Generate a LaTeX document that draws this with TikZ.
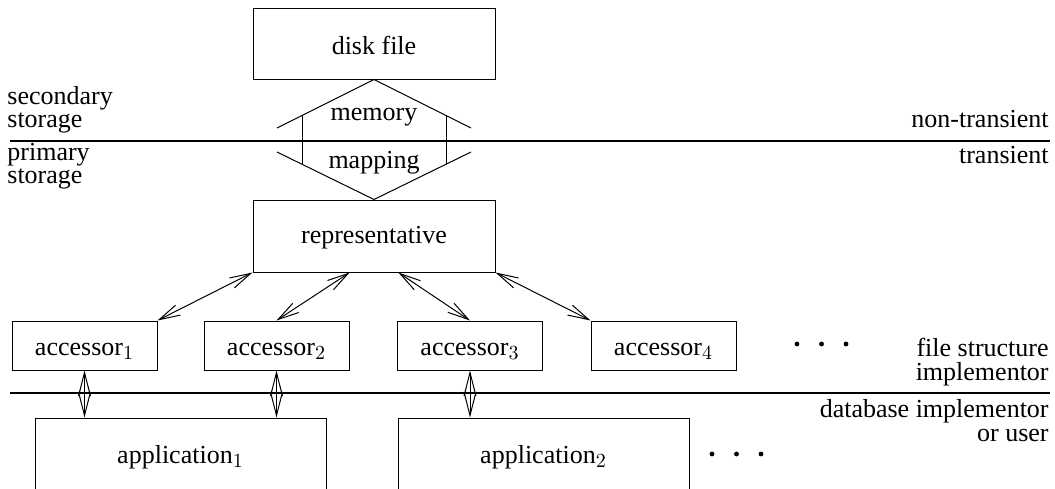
\documentclass[tikz,border=0pt]{standalone}
\usepackage{fontspec}
\setmainfont{Liberation Serif}
\DeclareMathSizes{13}{13}{9.8}{7.5}
\usetikzlibrary{arrows.meta,calc}
\begin{document}
\begin{tikzpicture}[x=0.5pt,y=-0.5pt,
  every node/.style={font=\fontsize{13}{15}\selectfont, inner sep=0pt},
  box/.style={draw, line width=0.5pt, anchor=base},
  diskbox/.style={box, minimum width=121pt, text height=23pt, text depth=12.5pt},
  repbox/.style={box, minimum width=121pt, text height=21.5pt, text depth=14.5pt},
  accbox/.style={box, minimum width=72.5pt, text height=17pt, text depth=7.5pt},
  appbox/.style={box, minimum width=145.5pt, text height=22.5pt, text depth=18.5pt},
  thin/.style={line width=0.5pt},
  rule/.style={line width=1pt},
  barb/.style={thin, {Straight Barb[length=10.5pt,width=5.5pt]}-{Straight Barb[length=10.5pt,width=5.5pt]}},
  dbl/.style={thin, {Straight Barb[length=11.8pt,width=6pt]}-{Straight Barb[length=11.8pt,width=6pt]}},
  lbl/.style={anchor=base west},
  rlbl/.style={anchor=base east},
  dot/.style={fill=black}]
\useasboundingbox (0,0) rectangle (1055,488);
\clip (0,0) rectangle (1055,488);

% storage levels
\draw[rule] (10,140.5) -- (1050,140.5);
\draw[rule] (10,393) -- (1050,393);

\node[lbl] (sec1) at (7,104) {secondary};
\node[lbl] (sec2) at (7,127) {storage};
\node[lbl] (pri1) at (7,160) {primary};
\node[lbl] (pri2) at (7,183) {storage};
\node[rlbl] (nt) at (1049,127) {non-transient};
\node[rlbl] (tr) at (1049,163) {transient};
\node[rlbl] (fs1) at (1049,356) {file structure};
\node[rlbl] (fs2) at (1049,380) {implementor};
\node[rlbl] (db1) at (1049,417) {database implementor};
\node[rlbl] (db2) at (1049,441) {or user};

% boxes
\node[diskbox] (disk) at (374,54) {disk file};
\node[repbox] (rep) at (374,243) {representative};
\node[accbox] (acc1) at (84.5,355) {accessor$_1$};
\node[accbox] (acc2) at (276.5,355) {accessor$_2$};
\node[accbox] (acc3) at (470,355) {accessor$_3$};
\node[accbox] (acc4) at (663.5,355) {accessor$_4$};
\node[appbox] (app1) at (180.5,463) {application$_1$};
\node[appbox] (app2) at (543.5,463) {application$_2$};

% memory mapping between disk file and representative
\draw[thin] (277,128) -- (disk.south) -- (471,128);
\draw[thin] (302,115.4) -- (302,164.4);
\draw[thin] (446,115.4) -- (446,164.4);
\draw[thin] (277,152) -- (rep.north) -- (471,152);
\node[anchor=base] (mem) at (374,120) {memory};
\node[anchor=base] (map) at (374,168) {mapping};

% representative <-> accessors
\draw[barb] (rep.south west) -- (acc1.north east);
\draw[barb] ($(rep.south west)!0.4!(rep.south east)$) -- (acc2.north);
\draw[barb] ($(rep.south west)!0.6!(rep.south east)$) -- (acc3.north);
\draw[barb] (rep.south east) -- (acc4.north west);

% accessors <-> applications
\draw[dbl] (acc1.south) -- (acc1.south |- app1.north);
\draw[dbl] (acc2.south) -- (acc2.south |- app1.north);
\draw[dbl] (acc3.south) -- (acc3.south |- app2.north);

% ellipses
\foreach \x in {797,821.5,846} \fill[dot] (\x,344) circle[radius=1.2pt];
\foreach \x in {712,736.5,761} \fill[dot] (\x,454) circle[radius=1.2pt];
\end{tikzpicture}
\end{document}
